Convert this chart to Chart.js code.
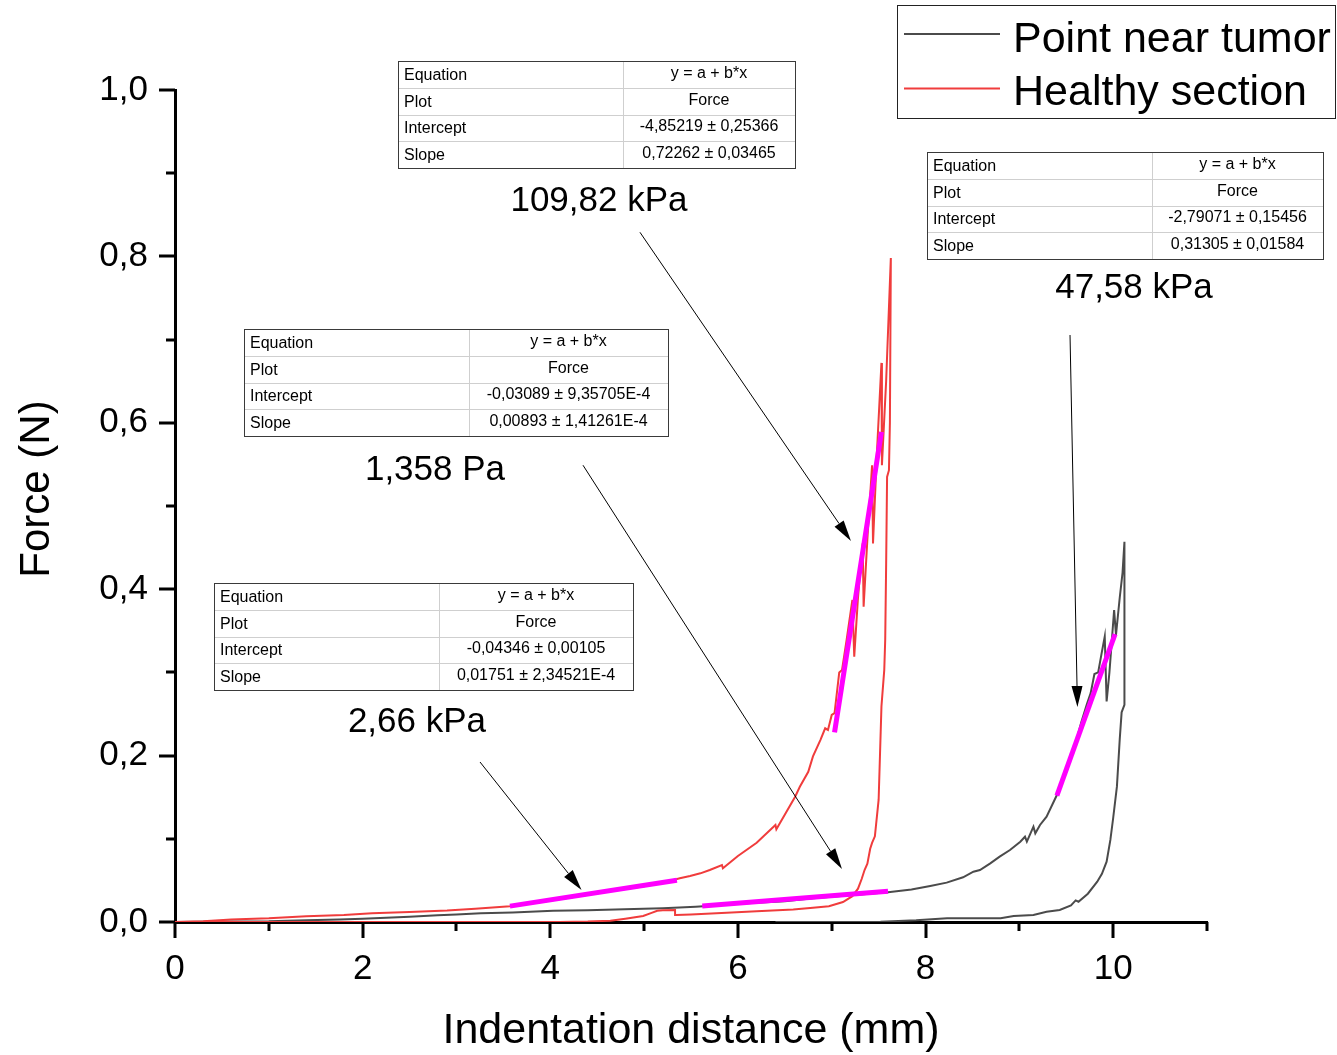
<!DOCTYPE html>
<html>
<head>
<meta charset="utf-8">
<title>Force vs indentation distance</title>
<script src="https://cdn.jsdelivr.net/npm/chart.js@4.4.0/dist/chart.umd.min.js"></script>
<style>
  html, body { margin: 0; padding: 0; background: #fff; }
  canvas { display: block; }
</style>
</head>
<body>
<canvas id="chart" width="1337" height="1055"></canvas>
<script>
// indentation runs: loading branch, then unloading branch (mm, N)
const tumorLoadX = [0, 0.5, 1.0, 1.4, 1.75, 2.0, 2.5, 2.8, 3.0, 3.26,
  3.6, 4.03, 4.4, 4.79, 5.2, 5.55, 5.8, 6.09, 6.5, 6.8,
  7.2, 7.6, 7.85, 8.05, 8.225, 8.4, 8.51, 8.58, 8.69, 8.79,
  8.9, 9.01, 9.06, 9.08, 9.15, 9.17, 9.22, 9.29, 9.40, 9.5,
  9.6, 9.66, 9.72, 9.76, 9.8, 9.84, 9.88, 9.91, 9.93, 9.96,
  10.01, 10.03, 10.07, 10.1, 10.12];
const tumorLoadY = [0, 0.0006, 0.0008, 0.002, 0.003, 0.004, 0.0064, 0.008, 0.009, 0.0104,
  0.0115, 0.0136, 0.0142, 0.0152, 0.0165, 0.0184, 0.02, 0.0224, 0.025, 0.0284,
  0.032, 0.0357, 0.039, 0.0433, 0.0473, 0.0537, 0.0605, 0.0625, 0.0705, 0.0785,
  0.0865, 0.0965, 0.1025, 0.0965, 0.1146, 0.1066, 0.1166, 0.1266, 0.1526, 0.18,
  0.215, 0.24, 0.262, 0.275, 0.298, 0.3, 0.325, 0.343, 0.265, 0.3,
  0.375, 0.345, 0.39, 0.42, 0.457];
const tumorUnloadX = [10.12, 10.09, 10.07, 10.04, 10.0, 9.97, 9.93, 9.88, 9.83, 9.73,
  9.63, 9.6, 9.55, 9.43, 9.29, 9.15, 8.94, 8.8, 8.5, 8.23,
  7.9, 7.52, 7.0, 6.4];
const tumorUnloadY = [0.261, 0.252, 0.22, 0.163, 0.125, 0.0986, 0.0725, 0.058, 0.0484, 0.034,
  0.0244, 0.026, 0.02, 0.0144, 0.0124, 0.0084, 0.0072, 0.0044, 0.0045, 0.0044,
  0.002, 0.0004, 0, 0];

const healthyLoadX = [0, 0.3, 0.6, 1.0, 1.4, 1.8, 2.1, 2.5, 2.9, 3.2,
  3.57, 3.9, 4.3, 4.7, 5.0, 5.2, 5.38, 5.49, 5.6, 5.70,
  5.83, 5.84, 6.00, 6.20, 6.40, 6.41, 6.45, 6.61, 6.66, 6.75,
  6.80, 6.88, 6.93, 6.96, 7.00, 7.03, 7.08, 7.11, 7.16, 7.22,
  7.24, 7.28, 7.33, 7.34, 7.38, 7.43, 7.44, 7.48, 7.53, 7.535,
  7.58, 7.63];
const healthyLoadY = [0, 0.001, 0.003, 0.0045, 0.007, 0.0085, 0.0105, 0.012, 0.0138, 0.016,
  0.019, 0.024, 0.031, 0.038, 0.043, 0.047, 0.0525, 0.0553, 0.0585, 0.0625,
  0.0685, 0.0645, 0.0793, 0.0953, 0.1166, 0.1114, 0.1194, 0.1506, 0.1626, 0.1806,
  0.199, 0.219, 0.2328, 0.2308, 0.2488, 0.251, 0.30, 0.303, 0.34, 0.387,
  0.319, 0.39, 0.455, 0.379, 0.46, 0.549, 0.455, 0.56, 0.672, 0.549,
  0.65, 0.798];
const healthyUnloadX = [7.62, 7.61, 7.59, 7.58, 7.57, 7.56, 7.53, 7.50, 7.46, 7.43,
  7.41, 7.38, 7.35, 7.32, 7.28, 7.22, 7.12, 6.97, 6.8, 6.59,
  6.2, 5.88, 5.5, 5.34, 5.33, 5.2, 5.14, 5.08, 4.99, 4.8,
  4.64, 4.4, 4.1, 3.0, 2.0, 1.0, 0.2];
const healthyUnloadY = [0.60, 0.543, 0.535, 0.43, 0.339, 0.303, 0.259, 0.147, 0.103, 0.095,
  0.088, 0.07, 0.0625, 0.052, 0.04, 0.031, 0.024, 0.019, 0.017, 0.015,
  0.013, 0.011, 0.009, 0.0085, 0.0145, 0.014, 0.0135, 0.011, 0.0072, 0.004,
  0.0016, 0.0005, 0, 0, 0, 0, 0];

// linear fits y = a + b*x on the loading branches
const fitModulus = ['2,66 kPa', '1,358 Pa', '109,82 kPa', '47,58 kPa'];
const fitIntercept = [-0.04346, -0.03089, -4.85219, -2.79071];
const fitInterceptErr = [0.00105, 9.35705e-4, 0.25366, 0.15456];
const fitSlope = [0.01751, 0.00893, 0.72262, 0.31305];
const fitSlopeErr = [2.34521e-4, 1.41261e-4, 0.03465, 0.01584];
const fitFrom = [3.57, 5.62, 7.03, 9.40];
const fitTo = [5.35, 7.60, 7.53, 10.02];

const xTickLabels = {0: '0', 2: '2', 4: '4', 6: '6', 8: '8', 10: '10'};
const yTickLabels = ['0,0', '0,2', '0,4', '0,6', '0,8', '1,0'];

// where each fit box, label and arrow sits
const tableBox = [[214, 583, 419], [244, 329, 424], [398, 61, 397], [927, 152, 396]]; // left, top, width (px)
const labelAt = [[2.579, 0.240], [2.771, 0.543], [4.519, 0.8666], [10.222, 0.762]];
const arrowFrom = [[3.251, 0.1923], [4.349, 0.549], [4.956, 0.829], [9.540, 0.7055]];
const arrowTo = [[4.333, 0.0385], [7.109, 0.0637], [7.205, 0.458], [9.619, 0.2584]];

const FONT = 'Arial, "Liberation Sans", sans-serif';
const GREY = '#4b4b4b';
const RED = '#f03c3c';

function pts(xs, ys) {
  return xs.map((x, i) => ({x: x, y: ys[i]}));
}

function num(v) {
  const s = Math.abs(v) < 0.001 ? v.toExponential().replace('e', 'E') : String(v);
  return s.replace('.', ',');
}

const datasets = [
  {
    label: 'Point near tumor',
    data: pts(tumorLoadX.concat(tumorUnloadX), tumorLoadY.concat(tumorUnloadY)),
    borderColor: GREY, borderWidth: 2, order: 2
  },
  {
    label: 'Healthy section',
    data: pts(healthyLoadX.concat(healthyUnloadX), healthyLoadY.concat(healthyUnloadY)),
    borderColor: RED, borderWidth: 2, order: 1
  }
];
fitModulus.forEach((m, i) => {
  datasets.push({
    label: 'fit ' + m,
    data: [fitFrom[i], fitTo[i]].map(x => ({x: x, y: fitIntercept[i] + fitSlope[i] * x})),
    borderColor: '#ff00ff', borderWidth: 5, order: 0
  });
});
datasets.forEach(d => { d.showLine = true; d.pointRadius = 0; d.tension = 0; d.fill = false; });

function drawArrow(ctx, x1, y1, x2, y2) {
  const ang = Math.atan2(y2 - y1, x2 - x1);
  const len = 21, half = 5.5;
  const bx = x2 - len * Math.cos(ang), by = y2 - len * Math.sin(ang);
  ctx.beginPath();
  ctx.moveTo(x1, y1);
  ctx.lineTo(bx, by);
  ctx.stroke();
  ctx.beginPath();
  ctx.moveTo(x2, y2);
  ctx.lineTo(bx + half * Math.sin(ang), by - half * Math.cos(ang));
  ctx.lineTo(bx - half * Math.sin(ang), by + half * Math.cos(ang));
  ctx.closePath();
  ctx.fill();
}

function drawTable(ctx, left, top, width, i) {
  const rowH = 26.75, col = 225, h = rowH * 4;
  const rows = [
    ['Equation', 'y = a + b*x'],
    ['Plot', 'Force'],
    ['Intercept', num(fitIntercept[i]) + ' \u00b1 ' + num(fitInterceptErr[i])],
    ['Slope', num(fitSlope[i]) + ' \u00b1 ' + num(fitSlopeErr[i])]
  ];
  ctx.fillStyle = '#fff';
  ctx.fillRect(left, top, width, h);
  ctx.strokeStyle = '#cfcfcf';
  ctx.lineWidth = 1;
  ctx.beginPath();
  for (let r = 1; r < 4; r++) {
    const y = Math.round(top + r * rowH) + 0.5;
    ctx.moveTo(left, y); ctx.lineTo(left + width, y);
  }
  ctx.moveTo(left + col + 0.5, top); ctx.lineTo(left + col + 0.5, top + h);
  ctx.stroke();
  ctx.strokeStyle = '#3a3a3a';
  ctx.strokeRect(left + 0.5, top + 0.5, width, Math.round(h));
  ctx.fillStyle = '#000';
  ctx.font = '16px ' + FONT;
  ctx.textBaseline = 'middle';
  rows.forEach((r, k) => {
    const cy = top + k * rowH + rowH / 2 + 1;
    ctx.textAlign = 'left';
    ctx.fillText(r[0], left + 6, cy);
    ctx.textAlign = 'center';
    ctx.fillText(r[1], left + col + (width - col) / 2, cy - 2);
  });
}

const decor = {
  id: 'decor',
  beforeDatasetsDraw(chart) {
    // tick marks: long on labelled values, short in between
    const ctx = chart.ctx, xs = chart.scales.x, ys = chart.scales.y;
    const {left, bottom} = chart.chartArea;
    ctx.save();
    ctx.strokeStyle = '#000';
    ctx.lineWidth = 3;
    ctx.beginPath();
    for (let v = 0; v <= 11; v++) {
      const px = Math.round(xs.getPixelForValue(v));
      ctx.moveTo(px, bottom); ctx.lineTo(px, bottom + (v % 2 ? 9 : 16));
    }
    for (let k = 0; k <= 10; k++) {
      const py = Math.round(ys.getPixelForValue(k / 10));
      ctx.moveTo(left, py); ctx.lineTo(left - (k % 2 ? 9 : 16), py);
    }
    ctx.stroke();

    // y axis title, centred a little above the middle of the axis
    ctx.fillStyle = '#000';
    ctx.font = '42px ' + FONT;
    ctx.textAlign = 'center';
    ctx.textBaseline = 'middle';
    ctx.translate(37, 489);
    ctx.rotate(-Math.PI / 2);
    ctx.fillText('Force (N)', 0, 0);
    ctx.restore();
  },
  afterDraw(chart) {
    const ctx = chart.ctx, xs = chart.scales.x, ys = chart.scales.y;
    const X = v => xs.getPixelForValue(v), Y = v => ys.getPixelForValue(v);
    ctx.save();

    // fit result boxes, modulus labels and arrows
    fitModulus.forEach((m, i) => {
      drawTable(ctx, tableBox[i][0], tableBox[i][1], tableBox[i][2], i);
      ctx.fillStyle = '#000';
      ctx.font = '35px ' + FONT;
      ctx.textAlign = 'center';
      ctx.textBaseline = 'middle';
      ctx.fillText(m, X(labelAt[i][0]), Y(labelAt[i][1]));
      ctx.strokeStyle = '#000';
      ctx.lineWidth = 1;
      drawArrow(ctx, X(arrowFrom[i][0]), Y(arrowFrom[i][1]), X(arrowTo[i][0]), Y(arrowTo[i][1]));
    });

    // legend box
    ctx.strokeStyle = '#222';
    ctx.lineWidth = 1;
    ctx.strokeRect(897.5, 5.5, 438, 113);
    ctx.font = '43px ' + FONT;
    ctx.textAlign = 'left';
    ctx.textBaseline = 'alphabetic';
    [0, 1].forEach(k => {
      const ds = chart.data.datasets[k];
      const ly = k ? 88.5 : 34;
      ctx.strokeStyle = ds.borderColor;
      ctx.lineWidth = 2;
      ctx.beginPath();
      ctx.moveTo(904, ly); ctx.lineTo(1000, ly);
      ctx.stroke();
      ctx.fillStyle = '#000';
      ctx.fillText(ds.label, 1013, k ? 105 : 52);
    });
    ctx.restore();
  }
};

new Chart(document.getElementById('chart'), {
  type: 'scatter',
  data: {datasets: datasets},
  options: {
    responsive: false,
    animation: false,
    layout: {padding: {top: 90, right: 130, left: 0, bottom: 0}},
    plugins: {legend: {display: false}, tooltip: {enabled: false}},
    scales: {
      x: {
        type: 'linear', min: 0, max: 11,
        afterFit: s => { s.height = 133; },
        grid: {display: false, drawTicks: false},
        border: {display: true, color: '#000', width: 3},
        ticks: {
          stepSize: 2, includeBounds: false, autoSkip: false, maxRotation: 0,
          padding: 26, color: '#000', font: {family: FONT, size: 35},
          callback: v => xTickLabels[v] || ''
        },
        title: {
          display: true, text: 'Indentation distance (mm)', color: '#000',
          font: {family: FONT, size: 43, lineHeight: 1.1}, padding: {top: 0, bottom: 0}
        }
      },
      y: {
        min: 0, max: 1,
        afterFit: s => { s.width = 175; },
        grid: {display: false, drawTicks: false},
        border: {display: true, color: '#000', width: 3},
        ticks: {
          stepSize: 0.2, includeBounds: false, autoSkip: false,
          padding: 27, color: '#000', font: {family: FONT, size: 35},
          callback: v => yTickLabels[Math.round(v * 5)] || ''
        },
        title: {display: false}
      }
    }
  },
  plugins: [decor]
});
</script>
</body>
</html>
